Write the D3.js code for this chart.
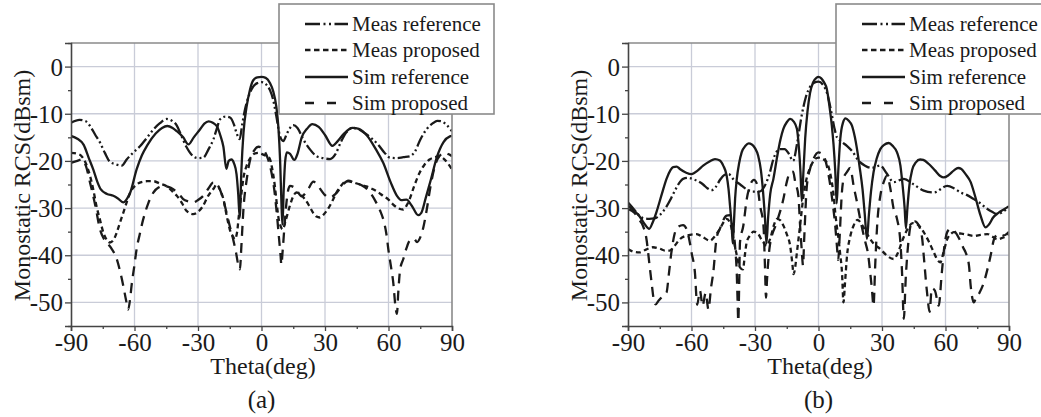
<!DOCTYPE html>
<html><head><meta charset="utf-8">
<script src="https://cdn.jsdelivr.net/npm/d3@7"></script>
<style>body{margin:0;background:#fff}svg{display:block}</style>
</head><body>
<svg id="c" width="1041" height="417"></svg>
<script>
// ---------- data ----------
const xTicks = [-90,-60,-30,0,30,60,90];
const yTicks = [0,-10,-20,-30,-40,-50];
const seriesNames = ["Meas reference","Meas proposed","Sim reference","Sim proposed"];
const panelLabels = ["(a)","(b)"];
const xTitle = "Theta(deg)";
const yTitle = "Monostatic RCS(dBsm)";

// panel (a)
const aMeasRef = [[-90,-11.9],[-86,-11.3],[-83,-11.6],[-81,-12.6],[-78.5,-14.5],[-76.3,-16.1],[-74,-18.3],[-71.6,-20.2],[-69,-20.7],[-66,-21],[-63.7,-19.7],[-60.5,-18.2],[-57.4,-16.9],[-54,-15],[-51,-13.3],[-48,-12],[-44.8,-11.1],[-42,-11.6],[-40,-12.5],[-38,-14.5],[-35.5,-17],[-32.3,-19],[-30,-19.4],[-27.5,-19.3],[-25,-17.5],[-22.7,-15.4],[-21,-13],[-19.6,-11.2],[-17,-10.6],[-14.9,-10.8],[-13,-12.3],[-11.7,-14.2],[-10.3,-15.4],[-9.2,-12.5],[-8,-9.5],[-6,-6.2],[-4,-4.3],[-2,-3.5],[0,-3.3],[2,-3.7],[4,-5],[5.5,-7],[7,-10.5],[8.7,-14.7],[10.3,-15.8],[12,-14.2],[15,-12.4],[17,-13],[19.7,-15.4],[22.8,-17.5],[26,-19],[29,-19.4],[32.4,-19.6],[35,-18.5],[37.5,-16],[40,-14],[43,-13],[46,-13.3],[49,-14.2],[52,-15.2],[55,-16.5],[58,-18.2],[60.7,-19.3],[64,-19.4],[67,-19.2],[70.2,-19],[72.5,-18],[75,-15.5],[78,-13.3],[81,-12],[83,-11.5],[85,-11.6],[87.5,-12.4],[90,-13.7]];
const aMeasProp = [[-90,-18.3],[-87,-18.5],[-85,-19],[-83,-20.5],[-81,-23.2],[-79.5,-26],[-78,-29.5],[-76.3,-32.5],[-74.7,-35.2],[-73,-36.8],[-71.6,-37.3],[-70,-36.8],[-68.4,-35.2],[-66.8,-33],[-65.3,-31],[-63.5,-28.5],[-62,-26.7],[-59,-25],[-56,-24.4],[-54,-24.3],[-51,-24.3],[-48,-24.8],[-45,-25.3],[-42,-26.5],[-40,-27.4],[-37.5,-29],[-35.4,-30.6],[-32.3,-31.3],[-30,-30.8],[-28,-29.8],[-25.2,-27.4],[-22.5,-25.8],[-21.2,-25],[-19.5,-26.2],[-18,-28.1],[-16.5,-31.5],[-15,-34.5],[-13.5,-36],[-12.6,-36.6],[-11.5,-35],[-10.8,-32],[-9.5,-27],[-8.5,-23.5],[-7,-21],[-5,-19.2],[-3,-18.4],[-1.5,-18.3],[0,-18.5],[2,-18.9],[3.9,-19.5],[5,-21.5],[6.3,-25.3],[7.2,-29],[7.9,-31.7],[8.8,-33.5],[10,-34.5],[11.5,-32.5],[13.4,-29.5],[15,-27.5],[16.5,-26.7],[18.5,-27.2],[20.5,-28.1],[22.5,-29.5],[24.4,-31],[26,-31.8],[27.5,-32],[29.5,-31.3],[32.3,-29.5],[34,-28],[35.4,-26.7],[37.5,-25.3],[40.1,-24.3],[43,-24.5],[46.4,-25],[49.5,-25.4],[52.7,-26],[55,-26.6],[57.4,-27.4],[60,-28.2],[62.1,-29.2],[64.5,-30],[66.9,-30.3],[68.5,-29.5],[70,-28.1],[72,-25.5],[74.7,-22.5],[77,-20.8],[79.4,-19.7],[82,-19.2],[84.2,-19],[86,-19.5],[88,-20.5],[90,-21.8]];
const aSimRef = [[-90,-14.7],[-87,-15.3],[-84,-16.6],[-81.5,-19.5],[-79.5,-21.8],[-77.5,-24.5],[-76,-26],[-73,-27],[-70,-27.4],[-68,-27.9],[-65.3,-28.8],[-63.5,-28],[-62,-26.7],[-59,-21.8],[-56.5,-18.8],[-54,-16.7],[-50,-14.2],[-47,-13],[-44.5,-12.6],[-42,-13],[-40,-13.7],[-37,-15],[-34.5,-16.5],[-32,-15],[-29,-13.3],[-27,-12.1],[-25,-11.6],[-23,-11.9],[-21,-12.7],[-19.5,-14.5],[-18,-17],[-16.6,-21.7],[-15.5,-20],[-14.2,-19.7],[-13,-20.5],[-11.8,-22.8],[-11,-27],[-10.3,-32],[-9.5,-22],[-8.5,-14],[-7,-8.4],[-5.5,-5],[-3.9,-2.9],[-2,-2.3],[0,-2.2],[2,-2.4],[4,-3.5],[5.5,-5.2],[7,-8.5],[8,-13],[8.8,-20],[9.5,-30],[9.9,-33.5],[10.5,-26],[11.2,-20],[12,-18.2],[13.5,-18.5],[15.5,-19.8],[17,-18.5],[19,-15],[21.5,-13.2],[24,-12.2],[27,-12.8],[30,-14.5],[33.5,-16.8],[36,-15.8],[39,-14.2],[43,-13],[46,-13.2],[50,-14.7],[54,-17.5],[57.5,-20.4],[61,-24.5],[64,-27.4],[66,-28.3],[68.5,-28.2],[71,-29.5],[74,-31.5],[75.5,-31],[77.5,-28],[80,-24],[83,-19],[86,-16],[89,-14.8],[90,-14.7]];
const aSimProp = [[-90,-20.4],[-87,-20],[-85,-19.7],[-83,-21],[-81,-24.6],[-78.5,-29.5],[-76.3,-34.5],[-74.5,-36.5],[-73.2,-37.3],[-71,-38.5],[-68.4,-40.8],[-66.5,-44],[-65.3,-46.5],[-64,-49.5],[-63,-51.5],[-62,-49],[-61.4,-46.5],[-60,-42],[-59,-38.7],[-57.5,-35.5],[-55.9,-32.4],[-53.5,-29],[-51.1,-26.7],[-48.5,-25.6],[-46.4,-25.3],[-44,-25.5],[-41.7,-26],[-39,-27],[-37,-28.1],[-34.5,-28.6],[-32.3,-28.8],[-30,-28.3],[-27.5,-27.4],[-25,-25.8],[-22.8,-24.6],[-21,-25.2],[-19.7,-26],[-18,-28.3],[-16.5,-31],[-15,-33.8],[-13.4,-36.6],[-12,-39.5],[-11,-42],[-10.2,-43],[-9.5,-38],[-8.5,-30],[-7,-24],[-5.5,-20],[-3.5,-17.8],[-1.5,-17],[0,-17.2],[1.5,-18],[3,-19.5],[4.5,-22],[6,-26],[7.2,-31],[8.2,-36],[9,-40],[9.4,-42],[10,-39],[11,-33],[12,-28],[13.4,-25.3],[16,-25.8],[19,-27.5],[22,-26],[24.5,-24.4],[27,-25.5],[29.5,-27],[32,-27.8],[35,-27],[38,-25.3],[41,-24.2],[44,-24.6],[47.5,-25.2],[51,-26.5],[54.4,-29],[56,-30.5],[57.6,-32.5],[59,-35.5],[60,-39],[61.2,-42.5],[62.3,-46],[63.2,-50.5],[64,-52.4],[64.6,-48],[65.5,-43],[67,-40.8],[68.5,-38.5],[70.2,-36.8],[72,-36.5],[73.5,-37.2],[75,-36.2],[76.5,-34],[78,-30.5],[80,-25],[82,-21],[84,-19],[86.5,-18.3],[88.5,-18.6],[90,-19]];

// panel (b)
const bMeasRef = [[-90,-28.8],[-88,-29.8],[-85.5,-31.2],[-83,-32.1],[-80,-32.3],[-77.5,-32.2],[-75,-31.5],[-72,-29.8],[-69.5,-27.8],[-67.5,-26],[-65.5,-24.5],[-64,-23.8],[-61.5,-23.6],[-59,-23.9],[-57,-24.3],[-54.5,-25],[-52.5,-25.8],[-50.5,-26.2],[-48.5,-25.5],[-46.5,-24],[-44.5,-23],[-42.5,-22.8],[-40,-24],[-37,-25],[-34,-26],[-31,-26.5],[-28,-26.5],[-25.3,-25.2],[-23,-22.5],[-21.3,-19.6],[-18.2,-17.5],[-16,-17.5],[-14,-18.5],[-12,-20],[-10,-16],[-8,-10.5],[-6,-6.5],[-4,-4.3],[-2,-3.4],[0,-3.2],[2,-3.8],[4,-5.6],[6,-9.5],[7.5,-13],[8.7,-15],[10.5,-15.8],[13.4,-16.8],[16,-18],[19,-20],[22,-21],[25,-21.5],[29.2,-21],[32,-22.5],[35.5,-24.5],[40.3,-23.8],[45,-25],[49.7,-26.3],[54.5,-26.7],[60.8,-25.3],[64,-25.8],[67.1,-26.7],[70,-27.2],[73.4,-28.1],[76.5,-29],[79.8,-30.2],[82,-30.8],[84.5,-31.3],[87,-30.8],[90,-29.8]];
const bMeasProp = [[-90,-38.7],[-87,-39.3],[-84.5,-39.4],[-81.5,-38.8],[-78.2,-38.3],[-75,-38.6],[-72.5,-39],[-70.3,-39],[-68,-38],[-65.5,-36.6],[-62,-35.8],[-57.6,-35.5],[-54.5,-36.2],[-51.3,-36.9],[-49,-36],[-46.6,-34.4],[-43.4,-32.3],[-41.5,-33.5],[-40,-37],[-38.6,-40],[-37.2,-42.5],[-35.7,-43],[-34.8,-40],[-33.9,-37.2],[-32.3,-35.8],[-30.7,-35],[-28.5,-35.5],[-26.5,-37],[-24.5,-38],[-22.5,-36],[-21,-33.5],[-19.7,-32.3],[-18,-32.6],[-16.6,-33.7],[-15,-35.5],[-13.4,-38],[-12.3,-42],[-11.8,-44],[-11,-42.5],[-10.2,-39.4],[-8.7,-33.7],[-7.1,-27.4],[-5.5,-23.5],[-4,-21.5],[-1.6,-19.6],[0,-19.3],[2,-19.6],[3.9,-20.3],[5.2,-22],[6.3,-24.5],[7.2,-27.5],[7.9,-30.9],[8.7,-34],[9.5,-36.6],[10.3,-40],[11.1,-43.6],[11.8,-50],[12.5,-46],[13.5,-40],[15,-36],[16.6,-33.7],[18.5,-32.5],[20.5,-33.5],[23,-35.5],[26,-37.5],[29.2,-38.7],[32.4,-40.1],[35.5,-40.8],[37.5,-39.5],[39.5,-37],[42,-34.5],[44.5,-33.2],[46.6,-33.4],[48,-34],[49.7,-35.1],[52,-37],[54.5,-39.4],[56,-40.8],[57.6,-41.5],[59,-39.5],[60.8,-36.6],[62.5,-35.5],[63.9,-35.1],[66,-35.3],[68.7,-35.5],[71,-35.7],[73.4,-35.9],[76.5,-35.7],[79.8,-35.5],[82,-36],[84.5,-36.6],[87,-36.3],[90,-35.5]];
const bSimRef = [[-90,-29.5],[-87,-30.6],[-84.5,-31.8],[-82,-33.5],[-80,-34.4],[-78.3,-33],[-76.6,-30.9],[-74,-27],[-71.8,-23.8],[-70,-22],[-68.7,-21.3],[-67,-21.2],[-65.5,-21.7],[-62.5,-22.5],[-60,-22.8],[-57,-22],[-54.5,-21],[-51.5,-20.1],[-48.9,-19.6],[-46.6,-19.9],[-45,-21],[-43.4,-23.1],[-42.5,-26],[-41.8,-29.5],[-41,-34],[-40.5,-37.5],[-40,-33.5],[-39.4,-28],[-38.6,-23.8],[-37.5,-20.5],[-36.3,-18.2],[-34.5,-16.8],[-33,-16.3],[-31.5,-16.5],[-30,-17.3],[-28.5,-18.9],[-27.2,-22],[-26.2,-26.5],[-25.3,-32],[-24.6,-37.5],[-23.8,-32],[-22.8,-27],[-21.3,-23.8],[-19.5,-19],[-18,-15.5],[-16.6,-13.2],[-15,-11.8],[-13.4,-11.1],[-11.8,-11.6],[-10.2,-13.2],[-9.3,-17],[-8.5,-22.5],[-7.9,-28.5],[-7.2,-23],[-6.3,-15.3],[-5.2,-9.5],[-4,-5.6],[-2.5,-3.3],[-1,-2.4],[0,-2.2],[1.3,-2.5],[2.7,-3.4],[3.9,-4.7],[5.2,-8.5],[6.3,-12.5],[7.1,-16.5],[7.9,-22],[8.6,-29],[9.3,-22.5],[10.3,-15.3],[11.5,-12],[12.8,-11],[14.3,-11.5],[15.8,-12.5],[17.2,-15],[18.2,-17.5],[19.5,-21.5],[20.8,-26],[21.8,-31],[22.9,-36.5],[23.8,-31.5],[24.8,-26.5],[26,-22.4],[27.5,-19.5],[29.2,-17.5],[31,-16.6],[33.2,-16.2],[35,-16.8],[37.1,-18.2],[38.7,-21],[39.8,-25.5],[40.7,-30],[41.3,-34.3],[42,-30],[43,-25],[44.2,-22],[46,-20.3],[48,-19.7],[49.5,-19.8],[52,-20.6],[55,-22],[57.5,-23.2],[59.2,-23.5],[61.5,-23],[64,-22],[66,-21.5],[67.5,-21.7],[69.5,-22.8],[71.9,-24.5],[74,-27.5],[76.5,-31.5],[78.9,-34.1],[80.5,-33.5],[82.5,-32],[85,-31],[87.5,-30.3],[90,-29.6]];
const bSimProp = [[-90,-30.2],[-87,-31],[-85,-32.3],[-83,-33.7],[-81.3,-36.5],[-79.8,-42.2],[-78.8,-46],[-77.8,-49.5],[-77,-50.4],[-75.5,-49.6],[-73.5,-48.6],[-71.8,-47.9],[-70.7,-44],[-69.5,-39.4],[-68,-35.5],[-66.5,-34],[-64,-33.6],[-62.4,-34.4],[-61,-36.8],[-60,-39.4],[-58.4,-43.6],[-57.3,-50.5],[-56,-47.5],[-54.8,-50.7],[-53.3,-48],[-52,-51.5],[-50.8,-47],[-49.7,-43.6],[-48.2,-36.5],[-46.6,-34.4],[-43.4,-31.6],[-42,-31.5],[-40.5,-34],[-39.3,-38.7],[-38.6,-44],[-38.2,-50],[-37.9,-54],[-37.5,-47],[-37.1,-37.3],[-35.5,-33.7],[-33.9,-28.1],[-32.4,-25.3],[-30.5,-24],[-29,-25],[-27.6,-29.5],[-26,-33.7],[-25.3,-42.2],[-24.8,-49],[-24.3,-45],[-23,-38],[-19.7,-33],[-16.6,-28.1],[-15,-24.5],[-13.4,-22.4],[-12,-22.3],[-11,-24.5],[-9.5,-27.4],[-8.7,-33.7],[-7.9,-39],[-7.3,-42.2],[-6.8,-37],[-5.5,-25.3],[-4,-21.7],[-2.4,-19.6],[0,-18.2],[2.4,-18.9],[3.9,-21],[5.5,-25],[7,-30],[7.9,-33.7],[8.7,-38],[9.3,-41],[10,-36],[11,-27],[12,-23.5],[13.4,-22.4],[15,-21.5],[16.6,-25.3],[18.2,-28.8],[20,-33],[22,-37],[23.5,-40],[24.4,-43.6],[25.2,-47],[26,-50.7],[26.8,-42],[27.8,-33],[29.2,-27.4],[30.8,-24.5],[32.4,-23.1],[34,-26],[35.5,-30.2],[37.1,-32.3],[38.7,-37.3],[39.5,-44],[40.3,-53.5],[41.2,-45],[42.5,-37],[44,-33],[45.5,-32.8],[47.4,-33.7],[49,-36.5],[49.7,-40],[51.3,-48],[52.5,-52],[53.5,-47],[55,-47.5],[56.8,-50.7],[58.2,-44],[59.5,-38],[60.8,-35.1],[62.4,-34.4],[64.5,-35],[66.5,-36.5],[68.5,-38.5],[69.5,-39.4],[71.1,-42.2],[71.9,-46.5],[73.4,-50],[74.2,-49.3],[76,-48],[78.1,-45.8],[79.8,-43],[81.3,-40.1],[83,-36.5],[85,-35.5],[87.5,-35.8],[90,-35]];

// ---------- drawing ----------
const svg = d3.select("#c");
const FONT = "'Liberation Serif','Times New Roman',serif";
const INK = "#1a1a1a";
const styles = [
  {dash:"12,3,2,3,2,3"},   // Meas reference
  {dash:"5,3.5"},          // Meas proposed
  {dash:null},             // Sim reference
  {dash:"10,7"}            // Sim proposed
];
const fmt = d => String(d);   // plain hyphen-minus like the reference

function panel(opts){
  const {x0,x1,series,label,id} = opts;
  const yTop = 43, yBot = 326;
  const x = d3.scaleLinear().domain([-90,90]).range([x0,x1]);
  const y = d3.scaleLinear().domain([-55,5]).range([yBot,yTop]);
  const g = svg.append("g");

  g.append("clipPath").attr("id",id).append("rect")
    .attr("x",x0).attr("y",yTop).attr("width",x1-x0).attr("height",yBot-yTop);

  // grid
  const grid = g.append("g").attr("stroke","#c9ccd8").attr("stroke-width",1.3);
  xTicks.filter(t=>t>-90&&t<90).forEach(t=>grid.append("line")
    .attr("x1",x(t)).attr("x2",x(t)).attr("y1",yTop).attr("y2",yBot));
  yTicks.forEach(t=>grid.append("line")
    .attr("x1",x0).attr("x2",x1).attr("y1",y(t)).attr("y2",y(t)));

  // curves
  const line = d3.line().x(d=>x(d[0])).y(d=>y(d[1])).curve(d3.curveMonotoneX);
  const lg = g.append("g").attr("clip-path",`url(#${id})`);
  series.forEach((s,i)=>{
    lg.append("path").datum(s).attr("d",line)
      .attr("fill","none").attr("stroke",INK).attr("stroke-width",2.3)
      .attr("stroke-linejoin","round")
      .attr("stroke-dasharray",styles[i].dash);
  });

  // frame
  g.append("path").attr("d",`M${x0},${yTop}H${x1}V${yBot}`)
    .attr("fill","none").attr("stroke","#8a8a8a").attr("stroke-width",1.6);

  // axes (ticks outward)
  const xAxis = d3.axisBottom(x).tickValues(xTicks).tickSize(5).tickPadding(5).tickFormat(fmt);
  const gx = g.append("g").attr("transform",`translate(0,${yBot})`).call(xAxis);
  const xMinor = d3.axisBottom(x).tickValues(d3.range(-75,90,30)).tickSize(3).tickFormat("");
  g.append("g").attr("transform",`translate(0,${yBot})`).call(xMinor)
    .call(s=>s.select(".domain").remove());
  const yAxis = d3.axisLeft(y).tickValues(yTicks).tickSize(6).tickPadding(2).tickFormat(fmt);
  const gy = g.append("g").attr("transform",`translate(${x0},0)`).call(yAxis);
  const yMinor = d3.axisLeft(y).tickValues(d3.range(-55,6,10)).tickSize(3).tickFormat("");
  g.append("g").attr("transform",`translate(${x0},0)`).call(yMinor)
    .call(s=>s.select(".domain").remove());
  g.selectAll(".domain").attr("stroke","#444").attr("stroke-width",1.6);
  g.selectAll(".tick line").attr("stroke","#444").attr("stroke-width",1.3);
  g.selectAll(".tick text").attr("font-family",FONT).attr("font-size",25).attr("fill",INK);
  gx.selectAll(".tick text").attr("dy","0.58em");
  gy.selectAll(".tick text").attr("dy","0.34em");

  // titles
  g.append("text").attr("x",(x0+x1)/2+1.5).attr("y",374).attr("text-anchor","middle")
    .attr("font-family",FONT).attr("font-size",24).attr("fill",INK).text(xTitle);
  g.append("text").attr("transform",`translate(${x0-41},${(yTop+yBot)/2+1}) rotate(-90)`)
    .attr("text-anchor","middle").attr("font-family",FONT).attr("font-size",24)
    .attr("fill",INK).text(yTitle);
  g.append("text").attr("x",(x0+x1)/2).attr("y",408).attr("text-anchor","middle")
    .attr("font-family",FONT).attr("font-size",25).attr("fill",INK).text(label);

  // legend
  const lx = x0+208;
  const leg = g.append("g");
  leg.append("rect").attr("x",lx).attr("y",4).attr("width",215).attr("height",110)
    .attr("fill","#fff").attr("stroke","#8a8a8a").attr("stroke-width",1.6);
  const rows = [24,50,77,103];
  seriesNames.forEach((n,i)=>{
    leg.append("line").attr("x1",lx+26).attr("x2",lx+69).attr("y1",rows[i]).attr("y2",rows[i])
      .attr("stroke",INK).attr("stroke-width",2.4)
      .attr("stroke-dasharray",i===0?"15,3.5,2,3.5,2,3.5":i===1?"5.5,3.5":i===3?"9,13":null);
    leg.append("text").attr("x",lx+73).attr("y",rows[i]+7).attr("font-family",FONT)
      .attr("font-size",21).attr("fill",INK).text(n);
  });
}

panel({x0:71,x1:452,series:[aMeasRef,aMeasProp,aSimRef,aSimProp],label:panelLabels[0],id:"clipA"});
panel({x0:628,x1:1009,series:[bMeasRef,bMeasProp,bSimRef,bSimProp],label:panelLabels[1],id:"clipB"});
</script>
</body></html>
